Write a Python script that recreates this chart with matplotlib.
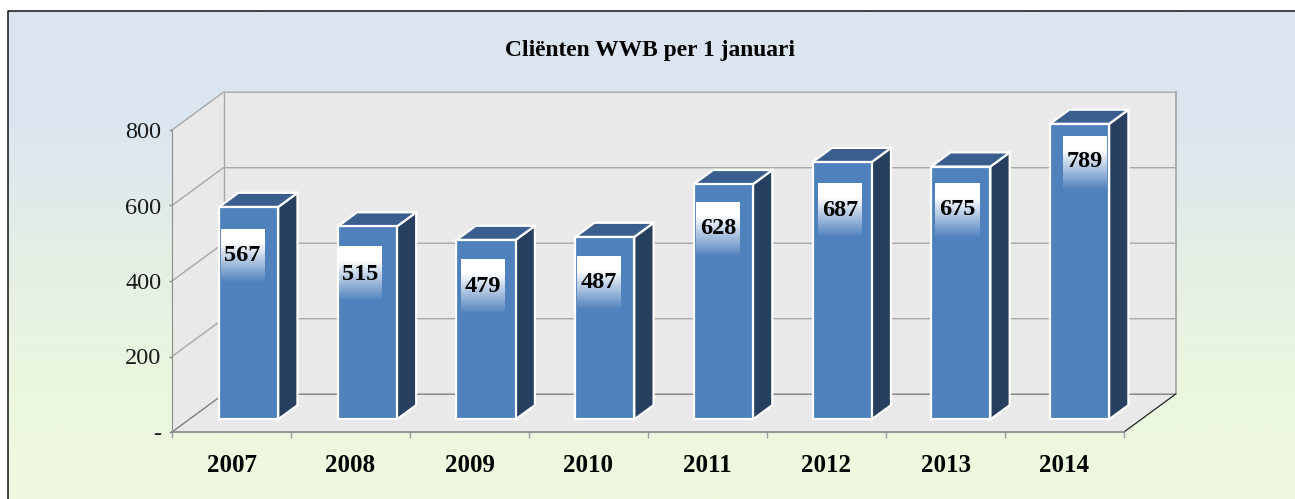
import numpy as np
import matplotlib
matplotlib.use('Agg')
import matplotlib.pyplot as plt
from matplotlib.colors import LinearSegmentedColormap
from matplotlib.patches import Polygon

years = ['2007', '2008', '2009', '2010', '2011', '2012', '2013', '2014']
clients = [567, 515, 479, 487, 628, 687, 675, 789]
y_ticks = [0, 200, 400, 600, 800]
y_tick_labels = ['-', '200', '400', '600', '800']

# nudges of the value labels in pixels, they sit a bit off centre in the original
label_dx = [-6, -7, -3, -6, -5, -2, -4, 5]
label_dy = [47, 47, 46, 45, 43, 47, 42, 37]
box_dy = [22, 21, 20, 19, 19, 21, 17, 12]

W, H = 1295, 499
plt.rcParams['font.family'] = ['Liberation Serif', 'DejaVu Serif']
fig = plt.figure(figsize=(W / 100, H / 100), dpi=100, facecolor='white')

# background with the frame
bg = fig.add_axes([0, 0, 1, 1])
bg.set_xlim(0, W)
bg.set_ylim(H, 0)
bg.axis('off')
cmap = LinearSegmentedColormap.from_list('bg', [(0, '#DBE5F1'), (0.24, '#DCE6F0'), (0.5, '#E4EFE5'),
                                                (0.78, '#ECF7DF'), (1, '#EFF9DF')])
bg.imshow(np.linspace(0, 1, 256).reshape(-1, 1), cmap=cmap, aspect='auto', extent=[8, W, H, 11], zorder=0)
bg.set_xlim(0, W)
bg.set_ylim(H, 0)
bg.plot([8, 8, W], [H, 11, 11], color='#111111', lw=1.1, zorder=1)

# front plane of the plot: x 172-1124, value 0 at y 432, 800 at y 130
ax = fig.add_axes([172 / W, (H - 432) / H, 952 / W, 302 / H])
ax.set_xlim(0, len(years))
ax.set_ylim(0, 800)
ax.patch.set_alpha(0)

px_x = len(years) / 952
px_y = 800 / 302
depth_x = 51.5 * px_x
depth_y = 37.8 * px_y


def proj(x, v, z):
    return (x + z * depth_x, v + z * depth_y)


n = len(years)
wall = '#E9E9E9'
grid = '#A8A8A8'
ax.add_patch(Polygon([proj(0, 0, 0), proj(0, 800, 0), proj(0, 800, 1), proj(n, 800, 1), proj(n, 0, 1), proj(n, 0, 0)],
                     fc=wall, ec='none', clip_on=False, zorder=1))
for t in y_ticks:
    c = '#7F7F7F' if t == 0 else grid
    pts = [proj(0, t, 0), proj(0, t, 1), proj(n, t, 1)]
    ax.plot([p[0] for p in pts], [p[1] for p in pts], color=c, lw=1.0, clip_on=False, zorder=2)
pts = [proj(0, 0, 1), proj(0, 800, 1)]
ax.plot([p[0] for p in pts], [p[1] for p in pts], color=grid, lw=1.0, clip_on=False, zorder=2)
pts = [proj(n, 0, 1), proj(n, 800, 1)]
ax.plot([p[0] for p in pts], [p[1] for p in pts], color=grid, lw=1.3, clip_on=False, zorder=2)
pts = [proj(n, 0, 0), proj(n, 0, 1)]
ax.plot([p[0] for p in pts], [p[1] for p in pts], color='#222222', lw=0.9, clip_on=False, zorder=2)

# bars, drawn a touch smaller than the front plane since they stand further back
bar_w = 0.497
z0, z1 = 0.335, 0.71
shrink_x = 0.9975
shrink_y = 0.992
fade = np.zeros((128, 1, 4))
fade[..., :3] = 1
fade[:, 0, 3] = np.clip(1.35 * (1 - np.linspace(0, 1, 128)), 0, 1)

for i, (year, v) in enumerate(zip(years, clients)):
    val = v * shrink_y
    mid = (i + 0.5) * shrink_x
    l, r = mid - bar_w / 2, mid + bar_w / 2
    front = [proj(l, 0, z0), proj(l, val, z0), proj(r, val, z0), proj(r, 0, z0)]
    top = [proj(l, val, z0), proj(l, val, z1), proj(r, val, z1), proj(r, val, z0)]
    side = [proj(r, 0, z0), proj(r, val, z0), proj(r, val, z1), proj(r, 0, z1)]
    for poly, col in ((side, '#27405F'), (top, '#3A5F8E'), (front, '#4F81BD')):
        ax.add_patch(Polygon(poly, fc=col, ec='white', lw=1.6, joinstyle='miter', clip_on=False, zorder=3))
    # value label with its white fade
    cx = proj(mid, val, z0)
    bx = cx[0] + label_dx[i] * px_x
    box_top = cx[1] - box_dy[i] * px_y
    ax.imshow(fade, aspect='auto', extent=[bx - 22 * px_x, bx + 22 * px_x, box_top - 54 * px_y, box_top],
              clip_on=False, zorder=4)
    ax.text(bx, cx[1] - (label_dy[i] + 1) * px_y, str(v), ha='center', va='center', fontsize=17.5, fontweight='bold',
            color='black', zorder=5, clip_on=False)
ax.set_xlim(0, n)
ax.set_ylim(0, 800)

for s in ('top', 'right'):
    ax.spines[s].set_visible(False)
ax.spines['left'].set_color('#8C8C8C')
ax.spines['bottom'].set_color('#8C8C8C')
ax.spines['bottom'].set_linewidth(1.3)
ax.spines['left'].set_zorder(6)
ax.spines['bottom'].set_zorder(6)
ax.set_yticks(y_ticks)
ax.set_yticklabels(y_tick_labels, fontsize=17.5, color='#1A1A1A')
ax.tick_params(axis='y', length=2, width=1, color='#8C8C8C', pad=5.5)
ax.set_xticks(np.arange(n + 1))
ax.set_xticklabels([])
ax.tick_params(axis='x', length=4, width=1, color='#A0A0A0')
for i, year in enumerate(years):
    ax.annotate(year, (i + 0.5, 0), xytext=(0, -34), textcoords='offset pixels', ha='center', va='center',
                fontsize=18, fontweight='bold', color='black', annotation_clip=False)

bg.text(650, 50, 'Cliënten WWB per 1 januari', ha='center', va='center', fontsize=16.9, fontweight='bold', color='black')

fig.savefig('out.png', dpi=100, facecolor='white')
